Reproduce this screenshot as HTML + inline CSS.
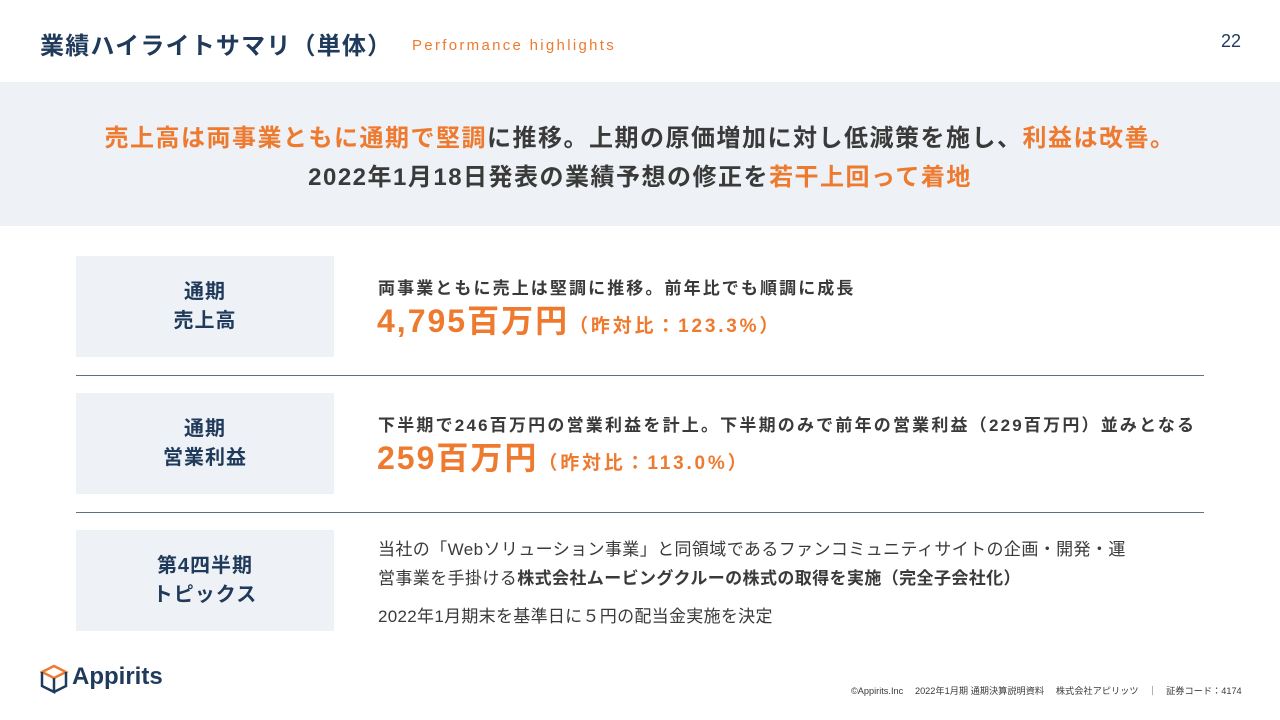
<!DOCTYPE html>
<html><head><meta charset="utf-8"><style>
*{margin:0;padding:0;box-sizing:border-box}
body{width:1280px;height:720px;background:#fff;font-family:"Liberation Sans","Noto Sans CJK JP",sans-serif;position:relative;overflow:hidden;color:#3a3a3a}
.abs{position:absolute;white-space:nowrap}
.o{color:#ee7a2f}
.box{position:absolute;left:76px;width:258px;height:101px;background:#eef1f5;color:#1f3a5a;font-weight:bold;font-size:20px;line-height:29px;text-align:center;display:flex;align-items:center;justify-content:center;letter-spacing:1px}
.line{position:absolute;left:76px;width:1128px;height:1px;background:#5a7088}
</style></head><body>
<div class="abs" style="left:40px;top:26px;font-size:24px;font-weight:bold;color:#1f3a5a;letter-spacing:1.2px">業績ハイライトサマリ（単体）</div>
<div class="abs o" style="left:412px;top:37px;font-size:15px;letter-spacing:2.3px">Performance highlights</div>
<div class="abs" style="left:1221px;top:31px;font-size:18px;color:#1f3a5a">22</div>
<div class="abs" style="left:0;top:82px;width:1280px;height:144px;background:#eef1f5"></div>
<div class="abs" style="left:0;top:118px;width:1280px;text-align:center;font-size:24px;font-weight:bold;letter-spacing:1.5px;color:#3a3a3a"><span class="o">売上高は両事業ともに通期で堅調</span>に推移。上期の原価増加に対し低減策を施し、<span class="o">利益は改善。</span></div>
<div class="abs" style="left:0;top:157px;width:1280px;text-align:center;font-size:24px;font-weight:bold;letter-spacing:1.5px;color:#3a3a3a">2022年1月18日発表の業績予想の修正を<span class="o">若干上回って着地</span></div>

<div class="box" style="top:256px">通期<br>売上高</div>
<div class="abs" style="left:378px;top:274px;font-size:17px;font-weight:bold;letter-spacing:2.1px">両事業ともに売上は堅調に推移。前年比でも順調に成長</div>
<div class="abs o" style="left:377px;top:296px;font-size:32px;font-weight:bold;letter-spacing:2px">4,795百万円<span style="font-size:19px;letter-spacing:2.8px">（昨対比：123.3%）</span></div>
<div class="line" style="top:375px"></div>

<div class="box" style="top:393px">通期<br>営業利益</div>
<div class="abs" style="left:378px;top:411px;font-size:17px;font-weight:bold;letter-spacing:2.2px">下半期で246百万円の営業利益を計上。下半期のみで前年の営業利益（229百万円）並みとなる</div>
<div class="abs o" style="left:377px;top:433px;font-size:32px;font-weight:bold;letter-spacing:2px">259百万円<span style="font-size:19px;letter-spacing:2.8px">（昨対比：113.0%）</span></div>
<div class="line" style="top:512px"></div>

<div class="box" style="top:530px">第4四半期<br>トピックス</div>
<div class="abs" style="left:378px;top:535px;font-size:17px;letter-spacing:0.4px;line-height:29px">当社の「Webソリューション事業」と同領域であるファンコミュニティサイトの企画・開発・運<br>営事業を手掛ける<b>株式会社ムービングクルーの株式の取得を実施（完全子会社化）</b></div>
<div class="abs" style="left:378px;top:602px;font-size:17px;letter-spacing:0.3px">2022年1月期末を基準日に５円の配当金実施を決定</div>

<svg class="abs" style="left:40px;top:664px" width="28" height="30" viewBox="0 0 28 30">
<path d="M14 2 L26 8 L14 14 L2 8 Z" fill="none" stroke="#ee7a2f" stroke-width="2.5"/>
<path d="M2 8 V22 L14 28 V14 M26 8 V22 L14 28" fill="none" stroke="#1f3a5a" stroke-width="2.5"/>
</svg>
<div class="abs" style="left:72px;top:663px;font-size:24px;font-weight:bold;color:#1f3a5a">Appirits</div>
<div class="abs" style="left:851px;top:683px;font-size:9.2px;color:#3a3a3a">©Appirits.Inc　 2022年1月期 通期決算説明資料　 株式会社アピリッツ　｜　証券コード：4174</div>
</body></html>
